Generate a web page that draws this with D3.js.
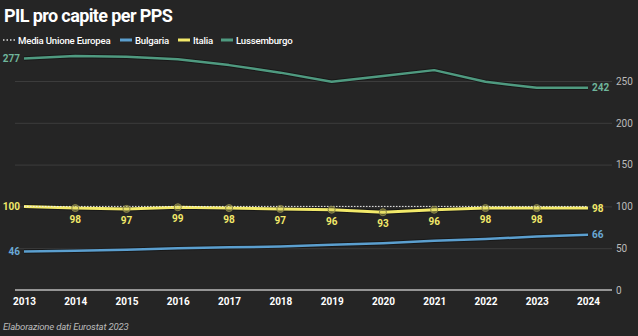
<!DOCTYPE html>
<html>
<head>
<meta charset="utf-8">
<script src="https://cdn.jsdelivr.net/npm/d3@7"></script>
<style>
  body { margin: 0; background: #252525; }
  svg { display: block; font-family: Roboto, sans-serif; }
</style>
</head>
<body>
<script>
  const years = [2013, 2014, 2015, 2016, 2017, 2018, 2019, 2020, 2021, 2022, 2023, 2024];
  const mediaUE = [100, 100, 100, 100, 100, 100, 100, 100, 100, 100, 100, 100];
  const bulgaria = [46, 47, 48, 50, 51, 52, 54, 56, 59, 61, 64, 66];
  const italia = [100, 98, 97, 99, 98, 97, 96, 93, 96, 98, 98, 98];
  const lussemburgo = [277, 280, 279, 276, 269, 260, 249, 256, 263, 249, 242, 242];
  const yTicks = [0, 50, 100, 150, 200, 250];

  const w = 638;
  const h = 336;

  const x = d3.scaleLinear().domain([2013, 2024]).range([24, 588]);
  const y = d3.scaleLinear().domain([0, 250]).range([290, 81]);

  const svg = d3.select('body').append('svg')
    .attr('width', w)
    .attr('height', h);

  svg.append('rect').attr('width', w).attr('height', h).attr('fill', '#252525');

  // title
  svg.append('text')
    .attr('x', 4).attr('y', 22)
    .attr('fill', '#fff')
    .attr('font-size', 18).attr('font-weight', 700)
    .attr('letter-spacing', -0.6)
    .text('PIL pro capite per PPS');

  // legend
  const legend = [
    {name: 'Media Unione Europea', color: '#ddd', dash: '1.5,2', x: 3},
    {name: 'Bulgaria', color: '#5b9fcf', dash: null, x: 120},
    {name: 'Italia', color: '#f2e96a', dash: null, x: 178},
    {name: 'Lussemburgo', color: '#4f9a80', dash: null, x: 221}
  ];
  const lg = svg.append('g');
  legend.forEach(function(d) {
    lg.append('line')
      .attr('x1', d.x).attr('x2', d.x + 12)
      .attr('y1', 40).attr('y2', 40)
      .attr('stroke', d.color)
      .attr('stroke-width', d.dash ? 1.5 : 3)
      .attr('stroke-dasharray', d.dash);
    lg.append('text')
      .attr('x', d.x + 15).attr('y', 43.5)
      .attr('fill', '#fff')
      .attr('font-size', 9.6).attr('font-weight', 500)
      .attr('letter-spacing', -0.2)
      .text(d.name);
  });

  // y grid and labels on the right
  const yAxis = d3.axisRight(y).tickValues(yTicks).tickSize(597).tickPadding(4);
  const ya = svg.append('g')
    .attr('transform', 'translate(15,0)')
    .call(yAxis);
  ya.select('.domain').remove();
  ya.selectAll('.tick line').attr('stroke', '#3c3c3c').attr('stroke-width', 1);
  ya.selectAll('.tick text').attr('fill', '#bbb').attr('font-size', 10).attr('font-family', 'Roboto, sans-serif');
  ya.selectAll('.tick').filter((d) => d === 0).select('line').attr('stroke', 'none');

  // x axis
  const xAxis = d3.axisBottom(x).tickValues(years).tickFormat(d3.format('d')).tickSize(0).tickPadding(8);
  const xa = svg.append('g')
    .attr('transform', 'translate(0,' + y(0) + ')')
    .call(xAxis);
  xa.select('.domain').remove();
  xa.append('line')
    .attr('x1', 15).attr('x2', 612)
    .attr('stroke', '#bbb').attr('stroke-width', 1.5);
  xa.selectAll('.tick text').attr('fill', '#fff').attr('font-size', 10).attr('font-weight', 700).attr('font-family', 'Roboto, sans-serif');

  const line = d3.line()
    .x((d, i) => x(years[i]))
    .y((d) => y(d));

  function drawSeries(values, color, width) {
    svg.append('path')
      .datum(values)
      .attr('d', line)
      .attr('fill', 'none')
      .attr('stroke', '#111')
      .attr('stroke-opacity', 0.6)
      .attr('stroke-width', width + 2)
      .attr('stroke-linejoin', 'round');
    svg.append('path')
      .datum(values)
      .attr('d', line)
      .attr('fill', 'none')
      .attr('stroke', color)
      .attr('stroke-width', width)
      .attr('stroke-linejoin', 'round');
  }

  drawSeries(lussemburgo, '#4f9a80', 2.5);
  drawSeries(bulgaria, '#5b9fcf', 2.5);
  drawSeries(italia, '#f2e96a', 3);

  // EU average dotted line
  svg.append('path')
    .datum(mediaUE)
    .attr('d', line)
    .attr('fill', 'none')
    .attr('stroke', '#eee')
    .attr('stroke-width', 1)
    .attr('stroke-dasharray', '1.5,1.5');

  // Italia markers
  svg.selectAll('.dot')
    .data(italia.slice(1, -1))
    .enter().append('circle')
    .attr('cx', (d, i) => x(years[i + 1]))
    .attr('cy', (d) => y(d))
    .attr('r', 3.5)
    .attr('fill', '#d8d060')
    .attr('fill-opacity', 0.35)
    .attr('stroke', '#8a8548')
    .attr('stroke-width', 1);

  // Italia labels below points
  svg.selectAll('.itlab')
    .data(italia.slice(1, -1))
    .enter().append('text')
    .attr('x', (d, i) => x(years[i + 1]))
    .attr('y', (d) => y(d) + 15)
    .attr('text-anchor', 'middle')
    .attr('fill', '#f2e96a')
    .attr('font-size', 10).attr('font-weight', 700)
    .attr('stroke', '#252525').attr('stroke-width', 2).attr('paint-order', 'stroke')
    .text((d) => d);

  // end labels
  const ends = [
    {v: lussemburgo, color: '#6fb59b'},
    {v: bulgaria, color: '#6aa9d6'},
    {v: italia, color: '#f2e96a'}
  ];
  ends.forEach(function(s) {
    svg.append('text')
      .attr('x', x(2013) - 4).attr('y', y(s.v[0]) + 3.5)
      .attr('text-anchor', 'end')
      .attr('fill', s.color)
      .attr('font-size', 10).attr('font-weight', 700)
      .text(s.v[0]);
    svg.append('text')
      .attr('x', x(2024) + 4).attr('y', y(s.v[s.v.length - 1]) + 3.5)
      .attr('fill', s.color)
      .attr('font-size', 10).attr('font-weight', 700)
      .text(s.v[s.v.length - 1]);
  });

  // source
  svg.append('text')
    .attr('x', 3).attr('y', 330)
    .attr('fill', '#bbb')
    .attr('font-size', 9.6).attr('font-style', 'italic')
    .attr('letter-spacing', -0.2)
    .text('Elaborazione dati Eurostat 2023');
</script>
</body>
</html>
